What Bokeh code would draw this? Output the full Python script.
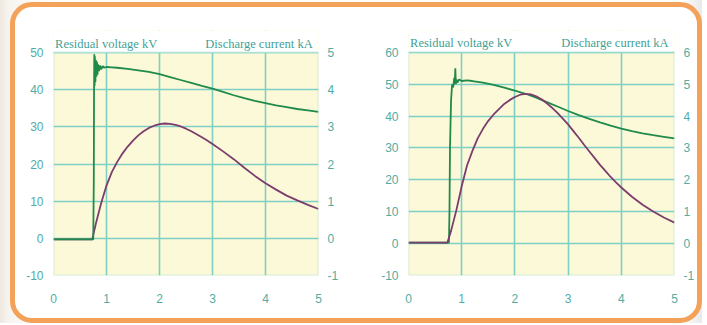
from bokeh.plotting import figure
from bokeh.models import Range1d, LinearAxis, Label, FixedTicker, BoxAnnotation
from bokeh.layouts import row, column
from bokeh.embed import file_html
from bokeh.resources import INLINE

# ---------------- data ----------------
# Left chart: residual voltage (kV) and discharge current (kA) vs time
left_v_t = [0.0, 0.75, 0.76, 0.765, 0.77, 0.775, 0.78, 0.79, 0.80, 0.81, 0.82, 0.83, 0.84,
            0.86, 0.88, 0.90, 0.93, 0.96, 1.0, 1.1, 1.2, 1.4, 1.6, 1.8, 2.0, 2.2, 2.4,
            2.6, 2.8, 3.0, 3.2, 3.4, 3.6, 3.8, 4.0, 4.2, 4.4, 4.6, 4.8, 5.0]
left_v = [-0.3, -0.3, 15.0, 40.0, 49.5, 41.0, 49.0, 42.0, 48.0, 43.5, 47.5, 44.0, 46.8,
          45.0, 46.5, 45.5, 46.3, 45.9, 46.1, 46.0, 45.9, 45.6, 45.2, 44.8, 44.2, 43.4, 42.6,
          41.8, 41.0, 40.3, 39.4, 38.5, 37.7, 37.0, 36.4, 35.8, 35.3, 34.8, 34.4, 34.0]
left_i_t = [0.0, 0.73, 0.8, 0.9, 1.0, 1.1, 1.2, 1.3, 1.4, 1.5, 1.6, 1.7, 1.8, 1.9, 2.0,
            2.1, 2.2, 2.3, 2.4, 2.5, 2.6, 2.7, 2.8, 2.9, 3.0, 3.2, 3.4, 3.6, 3.8, 4.0,
            4.2, 4.4, 4.6, 4.8, 5.0]
left_i = [-0.03, -0.03, 0.40, 0.95, 1.42, 1.78, 2.05, 2.28, 2.47, 2.63, 2.77, 2.88, 2.97,
          3.03, 3.07, 3.09, 3.08, 3.05, 3.01, 2.95, 2.88, 2.80, 2.72, 2.63, 2.54, 2.34,
          2.13, 1.90, 1.68, 1.48, 1.31, 1.15, 1.02, 0.90, 0.79]

# Right chart
right_v_t = [0.0, 0.76, 0.77, 0.78, 0.80, 0.82, 0.84, 0.86, 0.87, 0.88, 0.89, 0.90, 0.92,
             0.95, 1.0, 1.1, 1.2, 1.4, 1.6, 1.8, 2.0, 2.2, 2.4, 2.6, 2.8, 3.0, 3.2, 3.4,
             3.6, 3.8, 4.0, 4.2, 4.4, 4.6, 4.8, 5.0]
right_v = [0.3, 0.3, 10.0, 30.0, 45.0, 50.0, 49.0, 52.0, 50.0, 55.0, 50.0, 51.5, 50.5,
           51.5, 51.0, 51.2, 51.0, 50.5, 49.8, 48.9, 48.0, 47.0, 45.8, 44.4, 43.0, 41.6,
           40.3, 39.1, 38.0, 37.0, 36.1, 35.3, 34.6, 34.0, 33.5, 33.0]
right_i_t = [0.0, 0.73, 0.8, 0.9, 1.0, 1.1, 1.2, 1.3, 1.4, 1.5, 1.6, 1.7, 1.8, 1.9, 2.0,
             2.1, 2.2, 2.3, 2.4, 2.5, 2.6, 2.7, 2.8, 2.9, 3.0, 3.1, 3.2, 3.3, 3.4, 3.5,
             3.6, 3.7, 3.8, 3.9, 4.0, 4.2, 4.4, 4.6, 4.8, 5.0]
right_i = [0.03, 0.03, 0.40, 1.05, 1.80, 2.45, 2.90, 3.30, 3.60, 3.85, 4.05, 4.22, 4.38,
           4.50, 4.60, 4.67, 4.70, 4.68, 4.62, 4.53, 4.40, 4.26, 4.10, 3.92, 3.74, 3.53,
           3.32, 3.10, 2.89, 2.68, 2.47, 2.28, 2.09, 1.92, 1.76, 1.47, 1.22, 1.01, 0.82, 0.66]

x_ticks = [0, 1, 2, 3, 4, 5]
left_v_ticks = [-10, 0, 10, 20, 30, 40, 50]
left_i_ticks = [-1, 0, 1, 2, 3, 4, 5]
right_v_ticks = [-10, 0, 10, 20, 30, 40, 50, 60]
right_i_ticks = [-1, 0, 1, 2, 3, 4, 5, 6]

title_left = "Residual voltage kV"
title_right = "Discharge current kA"

# ---------------- styles ----------------
GRID = "#7dd0c3"
TICK_TXT = "#52aca4"
TITLE_TXT = "#3f9f96"
PLOT_BG = "#fcf9d9"
GREEN = "#1f8a4a"
PURPLE = "#7c3c6c"
ORANGE = "#f4a15a"


def make_chart(vt, v, it, i, vticks, iticks, width, height, borders, grid_px,
               purple_on_top):
    """grid_px: pixel height of the ruled (yellow) area; the frame extends above it
    so that the two headings sit inside the frame."""
    vmin, vmax = vticks[0], vticks[-1]
    imin, imax = iticks[0], iticks[-1]
    left, right, top, bottom = borders
    frame_h = height - top - bottom
    v_top = vmin + (vmax - vmin) * frame_h / grid_px
    i_top = imin + (imax - imin) * frame_h / grid_px
    p = figure(width=width, height=height, x_range=Range1d(0, 5),
               y_range=Range1d(vmin, v_top), output_backend="svg",
               toolbar_location=None, min_border_left=left, min_border_right=right,
               min_border_top=top, min_border_bottom=bottom)
    p.extra_y_ranges = {"cur": Range1d(imin, i_top)}
    p.add_layout(LinearAxis(y_range_name="cur"), "right")

    p.background_fill_color = PLOT_BG
    p.border_fill_alpha = 0
    p.outline_line_color = None

    p.xaxis.ticker = FixedTicker(ticks=x_ticks)
    p.yaxis[0].ticker = FixedTicker(ticks=vticks)
    p.yaxis[1].ticker = FixedTicker(ticks=iticks)
    p.yaxis[0].major_label_overrides = {t: str(t) for t in vticks}
    p.yaxis[1].major_label_overrides = {t: str(t) for t in iticks}
    for ax in p.axis:
        ax.axis_line_color = None
        ax.major_tick_line_color = None
        ax.minor_tick_line_color = None
        ax.major_label_text_color = TICK_TXT
        ax.major_label_text_font = "Liberation Sans"
        ax.major_label_text_font_size = "12px"
    p.xaxis.major_label_standoff = 12
    p.yaxis[0].major_label_standoff = 4
    p.yaxis[1].major_label_standoff = 3

    p.xgrid.ticker = FixedTicker(ticks=x_ticks)
    p.ygrid.ticker = FixedTicker(ticks=vticks)
    for g in (p.xgrid, p.ygrid):
        g.grid_line_color = GRID
        g.grid_line_width = 1.6

    def draw_v():
        p.line(vt, v, line_color=GREEN, line_width=1.8)

    def draw_i():
        p.line(it, i, line_color=PURPLE, line_width=1.8, y_range_name="cur")

    if purple_on_top:
        draw_v(); draw_i()
    else:
        draw_i(); draw_v()

    # white heading strip above the ruled area, then the ruled area's outline
    p.add_layout(BoxAnnotation(bottom=vmax, fill_color="white", fill_alpha=1,
                               line_alpha=0))
    p.add_layout(BoxAnnotation(bottom=vmin, top=vmax, left=0, right=5, fill_alpha=0,
                               line_color=GRID, line_width=2))

    title_y = vmax + 9 * (vmax - vmin) / grid_px
    p.add_layout(Label(x=0.03, y=title_y, text=title_left, text_align="left",
                       text_baseline="alphabetic", text_color=TITLE_TXT,
                       text_font="Liberation Serif", text_font_size="12.5px"))
    p.add_layout(Label(x=4.89, y=title_y, text=title_right, text_align="right",
                       text_baseline="alphabetic", text_color=TITLE_TXT,
                       text_font="Liberation Serif", text_font_size="12.5px"))
    return p


p1 = make_chart(left_v_t, left_v, left_i_t, left_i, left_v_ticks, left_i_ticks,
                345, 311, (38, 42, 23, 43), 223, False)
p2 = make_chart(right_v_t, right_v, right_i_t, right_i, right_v_ticks, right_i_ticks,
                337, 311, (48, 22, 23, 41), 225, True)

box = row(p1, p2, margin=(2, 0, 0, 10),
          styles={"background-color": "white", "border": f"5px solid {ORANGE}",
                  "border-radius": "22px"})
p = column(box, styles={"background": "linear-gradient(to right, #eee8e0 0px, "
                                      "#f8f5f1 10px, #ffffff 60px, #ffffff 97%, #e9e9e9 100%)"})

open("out.html", "w").write(file_html(p, INLINE))
